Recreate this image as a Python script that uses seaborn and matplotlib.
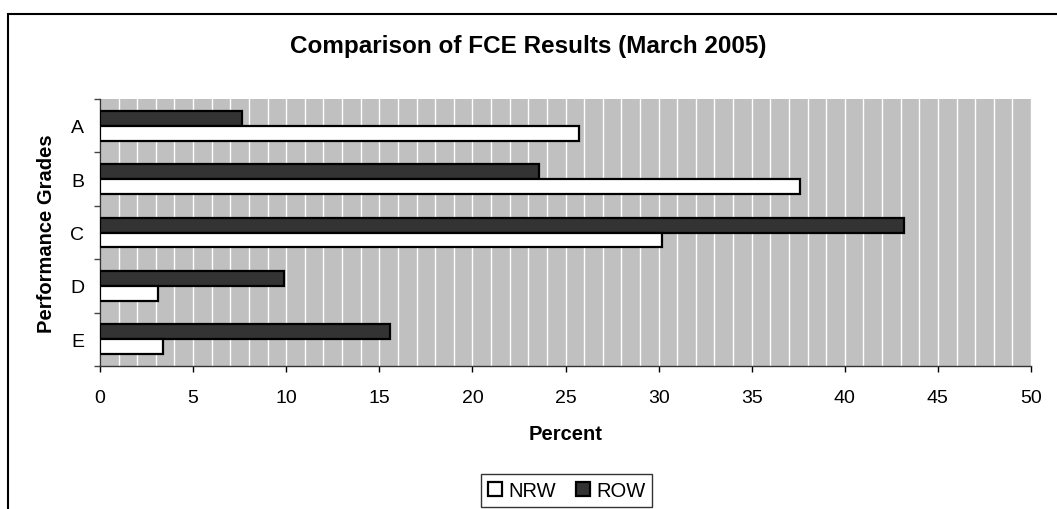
import numpy as np
import pandas as pd
import matplotlib
matplotlib.use("Agg")
import matplotlib.pyplot as plt
from matplotlib.ticker import MultipleLocator
from matplotlib.patches import Rectangle, Patch
import seaborn as sns

grades = ["A", "B", "C", "D", "E"]
nrw = [25.7, 37.6, 30.2, 3.1, 3.4]
row = [7.6, 23.6, 43.2, 9.9, 15.6]
series = ["ROW", "NRW"]
xticks = [0, 5, 10, 15, 20, 25, 30, 35, 40, 45, 50]

df = pd.DataFrame({
    "Grade": grades * 2,
    "Series": ["ROW"] * len(grades) + ["NRW"] * len(grades),
    "Percent": row + nrw,
})

sns.set_theme(style="white")
plt.rcParams["font.family"] = ["Liberation Sans", "DejaVu Sans"]
plt.rcParams["text.color"] = "black"
plt.rcParams["axes.labelcolor"] = "black"
plt.rcParams["xtick.color"] = "black"
plt.rcParams["ytick.color"] = "black"

W, H = 1057, 510
fig = plt.figure(figsize=(W / 100, H / 100), dpi=100)
ax = fig.add_axes([100 / W, (H - 367) / H, 931 / W, 267 / H])
ax.set_facecolor("#C0C0C0")

colors = {"ROW": "#333333", "NRW": "#FFFFFF"}
sns.barplot(data=df, y="Grade", x="Percent", hue="Series", hue_order=series,
            order=grades, palette=colors, orient="h", width=0.56, gap=0,
            edgecolor="black", linewidth=1.6, ax=ax, legend=False, errorbar=None,
            saturation=1, zorder=3)

ax.set_xlim(0, 50)
ax.set_ylim(4.5, -0.5)
ax.set_xticks(xticks)
ax.set_xticklabels([str(v) for v in xticks], fontsize=14, color="black")
ax.xaxis.set_minor_locator(MultipleLocator(1))
ax.grid(which="both", axis="x", color="white", linewidth=1.0, zorder=0)
ax.grid(which="both", axis="y", visible=False)
ax.set_axisbelow(True)

ax.set_yticks(np.arange(-0.5, 5, 1))
ax.set_yticklabels([""] * 6)
ax.set_yticks(np.arange(0, 5), minor=True)
ax.set_yticklabels(grades, minor=True, fontsize=14, color="black")

ax.tick_params(axis="x", which="major", direction="out", length=4.3, width=1,
               color="black", bottom=True, pad=12)
ax.tick_params(axis="x", which="minor", length=0)
ax.tick_params(axis="y", which="major", direction="out", length=4.3, width=1,
               color="#444444", left=True)
ax.tick_params(axis="y", which="minor", length=0, pad=11.5)

for s in ["top", "right"]:
    ax.spines[s].set_visible(False)
for s in ["left", "bottom"]:
    ax.spines[s].set_visible(True)
    ax.spines[s].set_color("#333333")
    ax.spines[s].set_linewidth(1.0)

ax.set_xlabel("Percent", fontsize=14.5, fontweight="bold", labelpad=13, color="black")
ax.set_ylabel("Performance Grades", fontsize=14.5, fontweight="bold", labelpad=10,
              color="black")

fig.text(528 / W, 1 - 47 / H, "Comparison of FCE Results (March 2005)",
         ha="center", va="center", fontsize=17.5, fontweight="bold", color="black")

handles = [Patch(facecolor=colors["NRW"], edgecolor="black", linewidth=1.6, label="NRW"),
           Patch(facecolor=colors["ROW"], edgecolor="black", linewidth=1.6, label="ROW")]
leg = fig.legend(handles=handles, loc="center", bbox_to_anchor=(566.5 / W, 1 - 491.5 / H),
                 ncol=2, fontsize=14.5, frameon=True, fancybox=False,
                 handlelength=0.7, handleheight=0.7, handletextpad=0.3,
                 columnspacing=1.0, borderpad=0.35)
leg.get_frame().set_edgecolor("black")
leg.get_frame().set_linewidth(1.0)
for t in leg.get_texts():
    t.set_color("black")

fig.patches.append(Rectangle((7.5 / W, -0.1), 1.2, 1 - 15 / H + 0.1,
                             transform=fig.transFigure, fill=False,
                             edgecolor="black", linewidth=1.5))

fig.savefig("out.png", dpi=100, facecolor="white")
